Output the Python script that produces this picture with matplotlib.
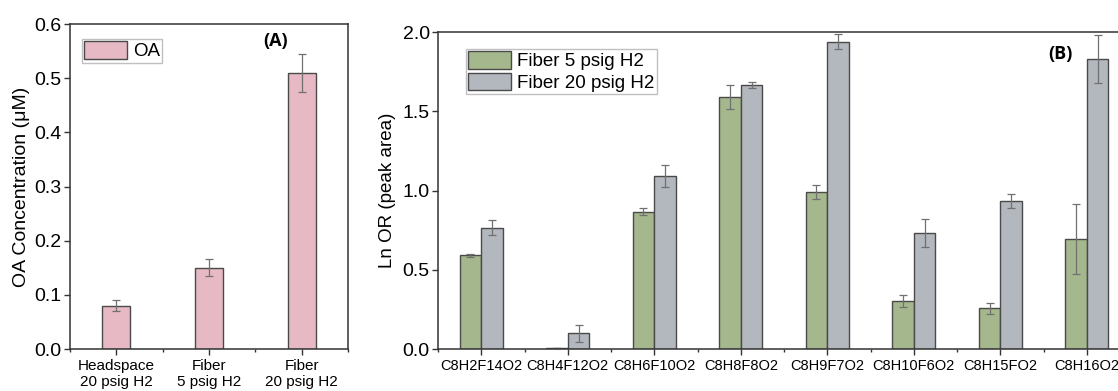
import numpy as np
import matplotlib.pyplot as plt
from matplotlib.ticker import MultipleLocator

plt.rcParams['font.family'] = ['Liberation Sans', 'DejaVu Sans']

# panel A data
a_labels = ['Headspace\n20 psig H2', 'Fiber\n5 psig H2', 'Fiber\n20 psig H2']
a_vals = [0.08, 0.15, 0.51]
a_err = [0.010, 0.016, 0.035]

# panel B data
b_labels = ['C8H2F14O2', 'C8H4F12O2', 'C8H6F10O2', 'C8H8F8O2',
            'C8H9F7O2', 'C8H10F6O2', 'C8H15FO2', 'C8H16O2']
fiber5 = [0.59, 0.005, 0.866, 1.59, 0.99, 0.303, 0.257, 0.692]
fiber5_err = [0.010, 0.0, 0.023, 0.074, 0.045, 0.036, 0.036, 0.22]
fiber20 = [0.765, 0.099, 1.09, 1.665, 1.94, 0.73, 0.934, 1.83]
fiber20_err = [0.047, 0.055, 0.068, 0.020, 0.045, 0.089, 0.046, 0.15]

pink = '#e6b9c5'
green = '#a5b78d'
grey = '#b3b8be'
edge = '#4a4a4a'
errkw = dict(ecolor='#707070', elinewidth=0.9, capsize=3, capthick=0.9)
leg_kw = dict(loc='upper left', fontsize=13.5, handlelength=2.3,
              handleheight=1.05, fancybox=False, edgecolor='#c0c0c0',
              borderpad=0.12, borderaxespad=0, handletextpad=0.3,
              labelspacing=0.12, framealpha=1)

fig = plt.figure(figsize=(11.18, 3.91), dpi=100)

# ---- panel A
ax1 = fig.add_axes([0.0626, 0.1074, 0.2487, 0.831])
xa = np.arange(1, len(a_vals) + 1)
ax1.bar(xa, a_vals, width=0.3, color=pink, edgecolor=edge, linewidth=1,
        yerr=a_err, error_kw=errkw, label='OA')
ax1.set_xlim(0.5, 3.5)
ax1.set_ylim(0, 0.6)
ax1.set_xticks(xa)
ax1.set_xticklabels(a_labels, fontsize=11)
ax1.xaxis.set_minor_locator(MultipleLocator(0.5))
ax1.yaxis.set_major_locator(MultipleLocator(0.1))
ax1.set_ylabel('OA Concentration (\u03bcM)', fontsize=14, labelpad=3)
ax1.legend(bbox_to_anchor=(0.043, 0.954), **leg_kw)
ax1.text(0.741, 0.948, '(A)', transform=ax1.transAxes, fontsize=13,
         fontweight='bold', family='Open Sans', ha='center', va='center')

# ---- panel B
ax2 = fig.add_axes([0.3918, 0.1074, 0.619, 0.8107])
xb = np.arange(1, len(b_labels) + 1)
w = 0.25
ax2.bar(xb - w / 2, fiber5, width=w, color=green, edgecolor=edge, linewidth=1,
        yerr=fiber5_err, error_kw=errkw, label='Fiber 5 psig H2')
ax2.bar(xb + w / 2, fiber20, width=w, color=grey, edgecolor=edge, linewidth=1,
        yerr=fiber20_err, error_kw=errkw, label='Fiber 20 psig H2')
ax2.set_xlim(0.5, 8.5)
ax2.set_ylim(0, 2.0)
ax2.set_xticks(xb)
ax2.set_xticklabels(b_labels, fontsize=10.5)
ax2.xaxis.set_minor_locator(MultipleLocator(0.5))
ax2.yaxis.set_major_locator(MultipleLocator(0.5))
ax2.set_ylabel('Ln OR (peak area)', fontsize=13.5, labelpad=5)
ax2.legend(bbox_to_anchor=(0.0405, 0.946), **leg_kw)
ax2.text(0.899, 0.931, '(B)', transform=ax2.transAxes, fontsize=13,
         fontweight='bold', family='Open Sans', ha='center', va='center')

for ax in (ax1, ax2):
    for s in ax.spines.values():
        s.set_color('#333333')
        s.set_linewidth(1.1)
    ax.tick_params(which='major', direction='out', length=4, width=1,
                   color='#333333', pad=2)
    ax.tick_params(axis='y', labelsize=14)
    ax.tick_params(axis='x', which='minor', direction='out', length=2.5,
                   width=1, color='#333333')
    ax.tick_params(axis='x', which='major', pad=3)

fig.savefig('out.png', dpi=100)
